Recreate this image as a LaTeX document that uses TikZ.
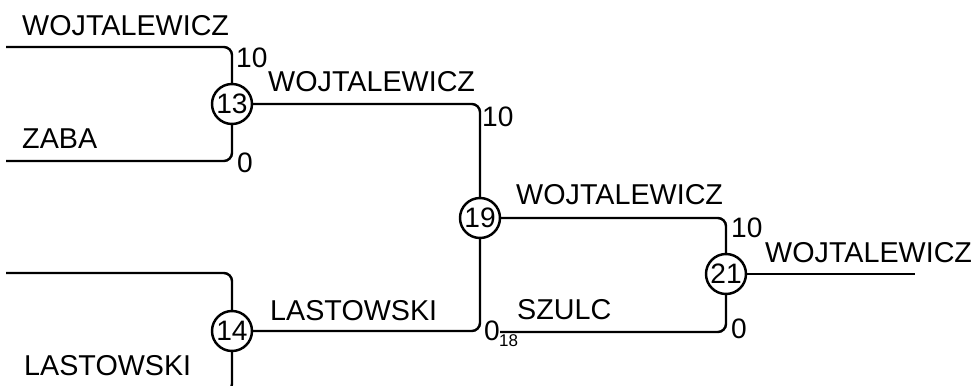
\documentclass[tikz,border=0pt]{standalone}
\usepackage{fontspec}
\setmainfont{Liberation Sans}
\usetikzlibrary{positioning}
\tikzset{
  wire/.style={line width=2.1pt, rounded corners=7pt},
  seed/.style={circle, draw, line width=2.1pt, minimum size=1.2cm, inner sep=0pt, font=\fontsize{24}{28}\selectfont},
  player/.style={anchor=base west, inner sep=0pt, font=\fontsize{24.5}{29}\selectfont},
  score/.style={anchor=base west, inner sep=0pt, font=\fontsize{24}{28}\selectfont},
  seedno/.style={anchor=base west, inner sep=0pt, font=\fontsize{14.5}{17}\selectfont}
}
\begin{document}
\begin{tikzpicture}[x=0.03cm, y=-0.03cm]
  \clip (0,0) rectangle (972,385);
  % match circles
  \node[seed] (m13) at (232,104) {13};
  \node[seed] (m14) at (232,331) {14};
  \node[seed] (m19) at (480,218) {19};
  \node[seed] (m21) at (726,274) {21};
  % free line ends
  \coordinate (s1) at (6,47);
  \coordinate (s2) at (6,161);
  \coordinate (s3) at (6,273);
  \coordinate (s4) at (6,392);
  \coordinate (s18) at (500,332);
  \coordinate (win) at (915,274);
  % bracket lines
  \draw[wire] (s1) -| (m13);
  \draw[wire] (s2) -| (m13);
  \draw[wire] (s3) -| (m14);
  \draw[wire] (s4) -| (m14);
  \draw[wire] (m13) -| (m19);
  \draw[wire] (m14) -| (m19);
  \draw[wire] (m19) -| (m21);
  \draw[wire] (s18) -| (m21);
  \draw[wire] (m21) -- (win);
  % names
  \node[player] (p1) at (22,35) {WOJTALEWICZ};
  \node[player] (p2) at (22,148) {ZABA};
  \node[player] (p3) at (24,375) {LASTOWSKI};
  \node[player] (p13) at (268,91) {WOJTALEWICZ};
  \node[player] (p14) at (270,320) {LASTOWSKI};
  \node[player] (p19) at (516,204) {WOJTALEWICZ};
  \node[player] (p18) at (517,319) {SZULC};
  \node[player] (p21) at (765,262) {WOJTALEWICZ};
  % scores
  \node[score] (r1) at (236,67) {10};
  \node[score] (r2) at (237,172) {0};
  \node[score] (r13) at (482,126) {10};
  \node[score] (r14) at (484,340) {0};
  \node[seedno] (n18) at (499,346) {18};
  \node[score] (r19) at (731,237) {10};
  \node[score] (r18) at (731,338) {0};
\end{tikzpicture}
\end{document}
